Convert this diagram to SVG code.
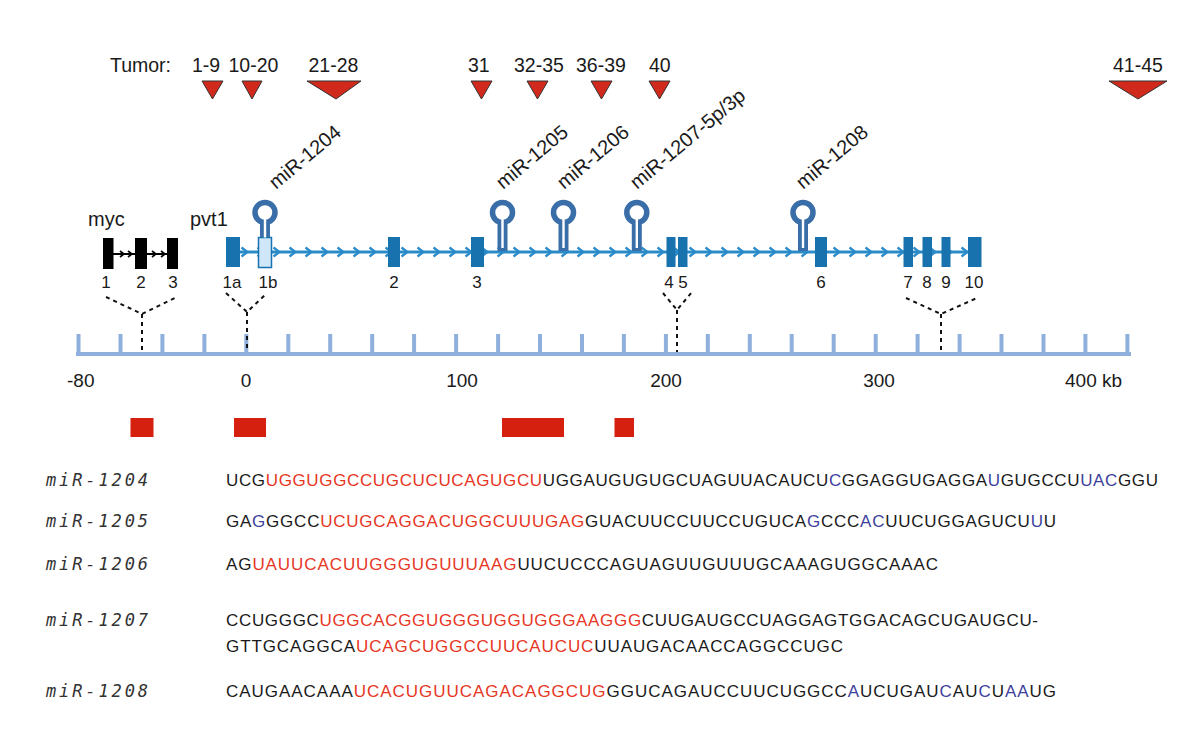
<svg xmlns="http://www.w3.org/2000/svg" width="1200" height="738" viewBox="0 0 1200 738">
<style>
.t{font-family:"Liberation Sans",Arial,sans-serif;fill:#1a1a1a}
.tum{font-size:19.5px}
.num{font-size:17px;text-anchor:middle}
.ax{font-size:19px}
.mir{font-size:20px}
.tri{fill:#d12a1c;stroke:#333;stroke-width:1}
.exon{fill:#1872ae}
.myc{fill:#000}
.stem{fill:#3a6ea8}
.ring{fill:#fff;stroke:#3a6ea8;stroke-width:5.5}
.slit{fill:#fff}
.axis{stroke:#8fb0dd;stroke-width:4;fill:none}
.bar{fill:#d5200f}
.dash{stroke:#111;stroke-width:2;stroke-dasharray:4 4;fill:none}
.seq{font-family:"Liberation Sans",Arial,sans-serif;font-size:17px;fill:#1a1a1a}
.lab{font-family:"DejaVu Sans Mono","Liberation Mono",monospace;font-style:italic;font-size:17px;fill:#333}
.r{fill:#e6361f}
.b{fill:#3d3f9c}
</style>
<defs>
<marker id="chev" markerUnits="userSpaceOnUse" markerWidth="10" markerHeight="12" refX="3.5" refY="5" orient="auto" overflow="visible">
<path d="M0,0.5 L6,5 L0,9.5" fill="none" stroke="#2b8bc8" stroke-width="2.2"/>
</marker>
<marker id="chevk" markerUnits="userSpaceOnUse" markerWidth="10" markerHeight="12" refX="3" refY="4" orient="auto" overflow="visible">
<path d="M0,1 L4,4 L0,7" fill="none" stroke="#000" stroke-width="1.6"/>
</marker>
</defs>
<rect width="1200" height="738" fill="#fff"/>

<g id="tumor">
<text class="t tum" x="110" y="72">Tumor:</text>
<text class="t tum" x="192" y="72">1-9</text>
<text class="t tum" x="228.5" y="72">10-20</text>
<text class="t tum" x="308.5" y="72">21-28</text>
<text class="t tum" x="468" y="72">31</text>
<text class="t tum" x="514" y="72">32-35</text>
<text class="t tum" x="576" y="72">36-39</text>
<text class="t tum" x="649" y="72">40</text>
<text class="t tum" x="1113" y="72">41-45</text>
<polygon class="tri" points="202,81 223,81 212.5,99"/>
<polygon class="tri" points="242,81 262,81 252,99"/>
<polygon class="tri" points="307,81 361,81 336,99"/>
<polygon class="tri" points="471,81 492,81 481.5,99"/>
<polygon class="tri" points="527,81 548,81 537.5,99"/>
<polygon class="tri" points="591,81 612,81 601.5,99"/>
<polygon class="tri" points="649,81 670,81 659.5,99"/>
<polygon class="tri" points="1109,81 1167,81 1138,99"/>
</g>

<g id="myc">
<text class="t" x="88" y="226" font-size="20">myc</text>
<polyline points="113,254 123,254 131,254 135,254" stroke="#000" stroke-width="2" fill="none" marker-mid="url(#chevk)"/>
<polyline points="147,254 155,254 164,254 167,254" stroke="#000" stroke-width="2" fill="none" marker-mid="url(#chevk)"/>
<rect class="myc" x="103" y="238" width="10.5" height="31"/>
<rect class="myc" x="135" y="238" width="12" height="31"/>
<rect class="myc" x="167" y="238" width="11" height="31"/>
<text class="t num" x="106" y="288">1</text>
<text class="t num" x="141" y="288">2</text>
<text class="t num" x="173" y="288">3</text>
</g>

<g id="pvt1">
<text class="t" x="190" y="226" font-size="20">pvt1</text>
<polyline stroke="#2b8bc8" stroke-width="3" fill="none" marker-mid="url(#chev)" points="237,252 245,252 261,252 277,252 293,252 309,252 325,252 341,252 357,252 373,252 389,252 405,252 421,252 437,252 453,252 469,252 485,252 501,252 517,252 533,252 549,252 565,252 581,252 597,252 613,252 629,252 645,252 661,252 677,252 693,252 709,252 725,252 741,252 757,252 773,252 789,252 805,252 821,252 837,252 853,252 869,252 885,252 901,252 917,252 933,252 949,252 965,252 970,252"/>
<rect class="exon" x="226" y="237" width="14" height="30"/>
<rect x="258.5" y="237.5" width="13" height="30" fill="#cfe7f8" stroke="#1872ae" stroke-width="1.5"/>
<rect class="exon" x="388" y="237" width="12" height="30"/>
<rect class="exon" x="471" y="237" width="13" height="30"/>
<rect class="exon" x="666.5" y="237" width="9" height="30"/>
<rect class="exon" x="678" y="237" width="9.5" height="30"/>
<rect class="exon" x="815" y="237" width="12" height="30"/>
<rect class="exon" x="903.5" y="237" width="9.5" height="30"/>
<rect class="exon" x="922.5" y="237" width="9.5" height="30"/>
<rect class="exon" x="941.5" y="237" width="9" height="30"/>
<rect class="exon" x="968" y="237" width="13.5" height="30"/>
<text class="t num" x="232" y="288">1a</text>
<text class="t num" x="268" y="288">1b</text>
<text class="t num" x="394" y="288">2</text>
<text class="t num" x="477" y="288">3</text>
<text class="t num" x="676" y="288">4 5</text>
<text class="t num" x="821" y="288">6</text>
<text class="t num" x="908" y="288">7</text>
<text class="t num" x="927" y="288">8</text>
<text class="t num" x="946" y="288">9</text>
<text class="t num" x="974" y="288">10</text>
</g>

<g id="mir-1204">
<rect class="stem" x="260" y="220" width="10" height="17"/>
<circle class="ring" cx="265" cy="212.5" r="10"/>
<rect class="slit" x="263.8" y="212" width="2.4" height="25.5"/>
<text class="t mir" transform="translate(276,190) rotate(-40)">miR-1204</text>
</g>
<g id="mir-1205">
<rect class="stem" x="497.5" y="220" width="10" height="31"/>
<circle class="ring" cx="502.5" cy="212.5" r="10"/>
<rect class="slit" x="501.3" y="212" width="2.4" height="36"/>
<text class="t mir" transform="translate(503,190) rotate(-40)">miR-1205</text>
</g>
<g id="mir-1206">
<rect class="stem" x="558.5" y="220" width="10" height="31"/>
<circle class="ring" cx="563.5" cy="212.5" r="10"/>
<rect class="slit" x="562.3" y="212" width="2.4" height="36"/>
<text class="t mir" transform="translate(564,190) rotate(-40)">miR-1206</text>
</g>
<g id="mir-1207">
<rect class="stem" x="631.8" y="220" width="10" height="31"/>
<circle class="ring" cx="636.8" cy="212.5" r="10"/>
<rect class="slit" x="635.6" y="212" width="2.4" height="36"/>
<text class="t mir" transform="translate(637,190) rotate(-40)">miR-1207-5p/3p</text>
</g>
<g id="mir-1208">
<rect class="stem" x="798" y="220" width="10" height="31"/>
<circle class="ring" cx="803" cy="212.5" r="10"/>
<rect class="slit" x="801.8" y="212" width="2.4" height="36"/>
<text class="t mir" transform="translate(803,190) rotate(-40)">miR-1208</text>
</g>

<g id="scale">
<path class="axis" d="M76,354 H1131 M78.5,334 V354 M120.5,334 V354 M162.4,334 V354 M204.4,334 V354 M246.3,334 V354 M288.3,334 V354 M330.2,334 V354 M372.2,334 V354 M414.1,334 V354 M456.1,334 V354 M498.1,334 V354 M540,334 V354 M582,334 V354 M623.9,334 V354 M665.9,334 V354 M707.8,334 V354 M749.8,334 V354 M791.7,334 V354 M833.7,334 V354 M875.7,334 V354 M917.6,334 V354 M959.6,334 V354 M1001.5,334 V354 M1043.5,334 V354 M1085.4,334 V354 M1127.4,334 V354"/>
<text class="t ax" x="67" y="387">-80</text>
<text class="t ax" x="246" y="387" text-anchor="middle">0</text>
<text class="t ax" x="462" y="387" text-anchor="middle">100</text>
<text class="t ax" x="666" y="387" text-anchor="middle">200</text>
<text class="t ax" x="879" y="387" text-anchor="middle">300</text>
<text class="t ax" x="1065" y="387">400 kb</text>
</g>

<g id="connectors">
<path class="dash" d="M106,297 L142,314 L177,297 M142,314 V352"/>
<path class="dash" d="M226,293 L247,312 L267,293 M247,312 V352"/>
<path class="dash" d="M663,293 L677,310 L692,292 M677,310 V352"/>
<path class="dash" d="M906,298 L941,314 L977,298 M941,314 V352"/>
</g>

<g id="regions">
<rect class="bar" x="130.5" y="418" width="23" height="19"/>
<rect class="bar" x="234" y="418" width="32" height="19"/>
<rect class="bar" x="502" y="418" width="62" height="19"/>
<rect class="bar" x="614.5" y="418" width="19.5" height="19"/>
</g>

<g id="sequences">
<text class="lab" x="46" y="486" textLength="102" lengthAdjust="spacing">miR-1204</text>
<text class="lab" x="46" y="527" textLength="102" lengthAdjust="spacing">miR-1205</text>
<text class="lab" x="46" y="570" textLength="102" lengthAdjust="spacing">miR-1206</text>
<text class="lab" x="46" y="626" textLength="102" lengthAdjust="spacing">miR-1207</text>
<text class="lab" x="46" y="697" textLength="102" lengthAdjust="spacing">miR-1208</text>
<text class="seq" x="226" y="486" textLength="932" lengthAdjust="spacing">UCG<tspan class="r">UGGUGGCCUGCUCUCAGUGCU</tspan>UGGAUGUGUGCUAGUUACAUCU<tspan class="b">C</tspan>GGAGGUGAGGA<tspan class="b">U</tspan>GUGCCU<tspan class="b">UAC</tspan>GGU</text>
<text class="seq" x="226" y="527" textLength="830" lengthAdjust="spacing">GA<tspan class="b">G</tspan>GGCC<tspan class="r">UCUGCAGGACUGGCUUUGAG</tspan>GUACUUCCUUCCUGUCA<tspan class="b">G</tspan>CCC<tspan class="b">AC</tspan>UUCUGGAGUCU<tspan class="b">U</tspan>U</text>
<text class="seq" x="226" y="570" textLength="712" lengthAdjust="spacing">AG<tspan class="r">UAUUCACUUGGGUGUUUAAG</tspan>UUCUCCCAGUAGUUGUUUGCAAAGUGGCAAAC</text>
<text class="seq" x="226" y="626" textLength="812" lengthAdjust="spacing">CCUGGGC<tspan class="r">UGGCACGGUGGGUGGUGGGAAGGG</tspan>CUUGAUGCCUAGGAGTGGACAGCUGAUGCU-</text>
<text class="seq" x="226" y="652" textLength="617" lengthAdjust="spacing">GTTGCAGGCA<tspan class="r">UCAGCUGGCCUUCAUCUC</tspan>UUAUGACAACCAGGCCUGC</text>
<text class="seq" x="226" y="697" textLength="830" lengthAdjust="spacing">CAUGAACAAA<tspan class="r">UCACUGUUCAGACAGGCUG</tspan>GGUCAGAUCCUUCUGGCC<tspan class="b">A</tspan>UCUGAU<tspan class="b">C</tspan>AU<tspan class="b">C</tspan>U<tspan class="b">AA</tspan>UG</text>
</g>
</svg>
